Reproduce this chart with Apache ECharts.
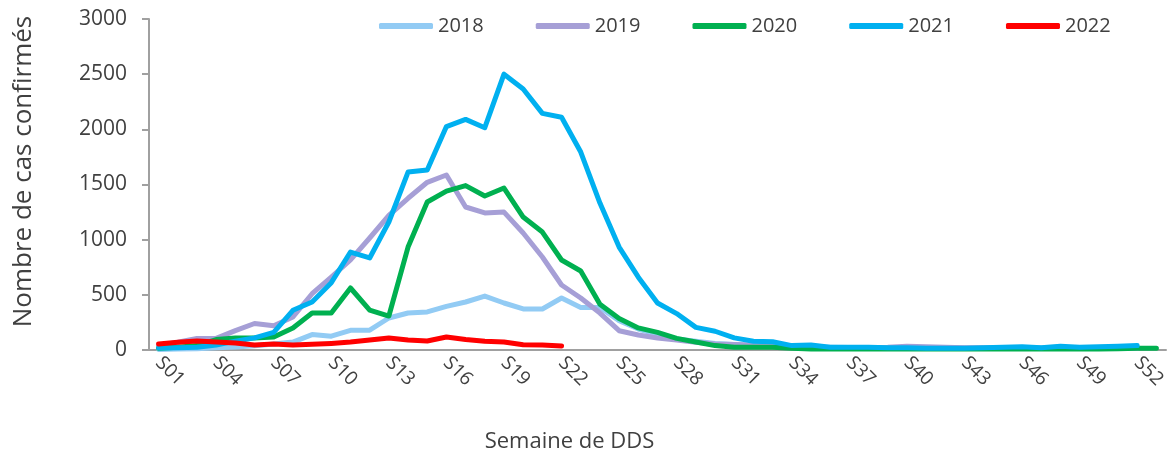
<!DOCTYPE html>
<html>
<head>
<meta charset="utf-8">
<script src="https://cdn.jsdelivr.net/npm/echarts@6/dist/echarts.min.js"></script>
<style>
html,body{margin:0;padding:0;background:#fff;}
#main{width:1170px;height:454px;}
</style>
</head>
<body>
<div id="main"></div>
<script>
// semaines S01..S53
var weeks = [];
for (var i = 1; i <= 53; i++) {
	weeks.push('S' + (i < 10 ? '0' + i : i));
}

var y2018 = [5,8,12,20,28,38,55,72,140,125,178,180,290,335,345,395,435,489,426,372,372,471,385,385,
	265,190,140,100,80,60,50,40,35,30,28,25,22,20,20,20,20,18,18,18,18,18,18,18,18,18,18,18];
var y2019 = [40,70,105,105,175,240,220,300,510,660,816,1015,1220,1375,1520,1586,1296,1242,1250,1060,843,589,471,335,
	175,136,109,90,70,55,50,45,40,30,25,20,20,20,25,35,30,25,20,20,20,15,15,15,15,15,15,15];
var y2020 = [15,25,40,95,109,109,118,199,335,335,562,362,308,933,1341,1440,1490,1396,1468,1205,1069,816,716,415,
	285,200,160,105,72,40,25,25,25,15,10,10,10,10,10,8,8,8,8,8,10,10,10,10,10,10,12,15,15];
var y2021 = [18,20,25,45,80,110,160,360,435,610,888,834,1160,1613,1631,2025,2090,2015,2500,2365,2145,2110,1794,1332,
	933,660,426,330,205,170,110,80,75,40,45,25,25,25,20,20,15,15,15,20,25,30,20,35,25,30,35,40];
var y2022 = [54,70,82,72,63,45,54,45,51,60,72,90,109,91,82,118,95,80,73,48,46,36];

var years = ['2018','2019','2020','2021','2022'];
var colors = ['#92cbf4','#a69fd6','#00b050','#00b0f0','#ff0000'];
var values = [y2018, y2019, y2020, y2021, y2022];

var txt = '#404040';
var font = '"Open Sans", sans-serif';

var series = [];
for (var k = 0; k < years.length; k++) {
	series.push({
		name: years[k],
		type: 'line',
		data: values[k],
		symbol: 'none',
		smooth: false,
		lineStyle: { width: 5, color: colors[k], cap: 'round', join: 'round' },
		itemStyle: { color: colors[k] }
	});
}

var myChart = echarts.init(document.getElementById('main'));
var option = {
	animation: false,
	color: colors,
	textStyle: { fontFamily: font },
	legend: {
		left: 374,
		top: 11,
		icon: 'roundRect',
		itemWidth: 54,
		itemHeight: 6,
		itemGap: 52,
		textStyle: { fontSize: 20, color: txt, fontFamily: font },
		data: years
	},
	grid: {
		left: 149,
		right: 4,
		top: 19,
		bottom: 104,
		containLabel: false,
		outerBoundsMode: 'none'
	},
	xAxis: {
		type: 'category',
		data: weeks,
		boundaryGap: true,
		name: 'Semaine de DDS',
		nameLocation: 'middle',
		nameGap: 81,
		// le titre n'est pas centré sur la grille dans l'original
		nameTextStyle: { fontSize: 22, color: txt, fontFamily: font, padding: [0, 176, 0, 0] },
		axisLine: { lineStyle: { color: '#a0a0a0', width: 2 } },
		axisTick: { show: false },
		axisLabel: {
			interval: 2,
			rotate: -45,
			margin: 10,
			fontSize: 19,
			color: txt,
			fontFamily: font
		}
	},
	yAxis: {
		type: 'value',
		min: 0,
		max: 3000,
		interval: 500,
		name: 'Nombre de cas confirmés',
		nameLocation: 'middle',
		nameRotate: 90,
		nameGap: 112,
		nameTextStyle: { fontSize: 26, color: txt, fontFamily: font, padding: [0, 0, 0, 26] },
		axisLine: { show: true, lineStyle: { color: '#a0a0a0', width: 2 } },
		axisTick: { show: true, inside: false, length: 7, lineStyle: { color: '#a0a0a0', width: 2 } },
		splitLine: { show: false },
		axisLabel: {
			fontSize: 21,
			color: txt,
			margin: 22,
			fontFamily: font,
			formatter: function (v) { return String(v); }
		}
	},
	series: series
};
myChart.setOption(option);
</script>
</body>
</html>
